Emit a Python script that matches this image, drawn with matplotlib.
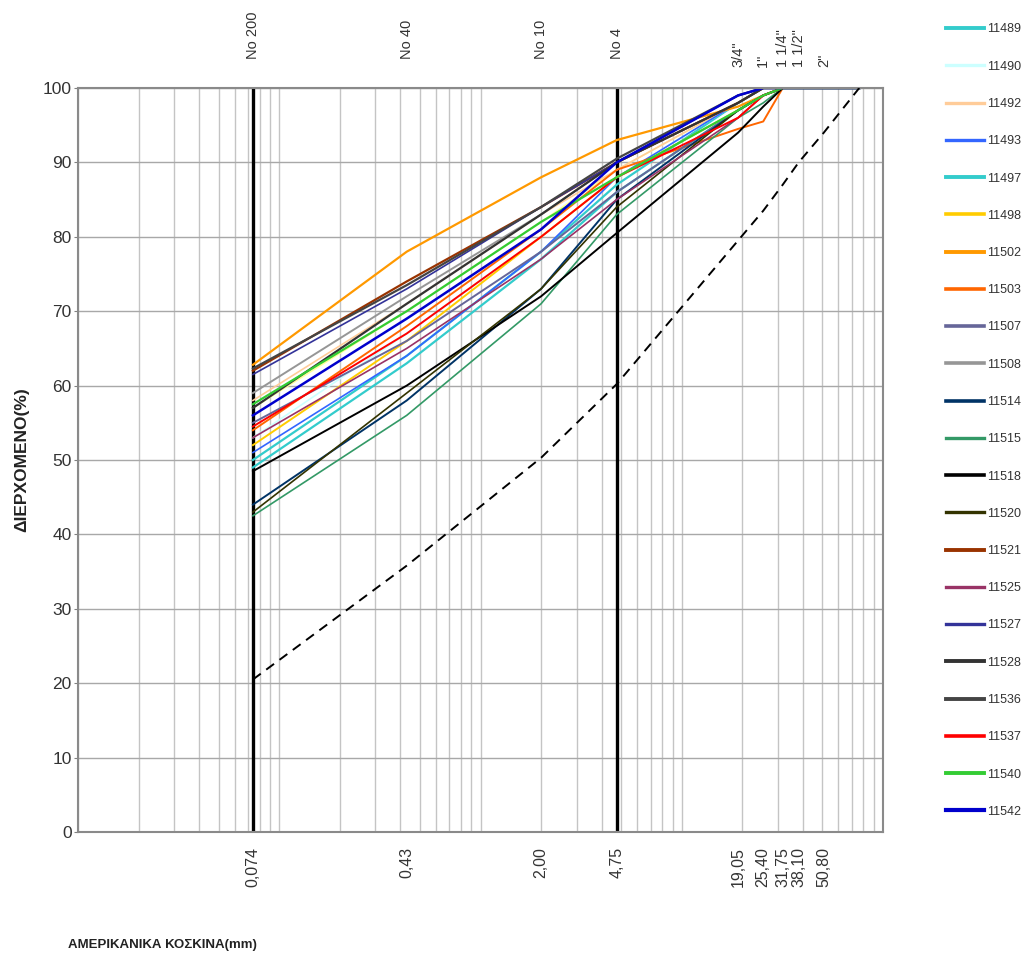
import matplotlib
matplotlib.use("Agg")
import matplotlib.pyplot as plt
from matplotlib.ticker import NullFormatter, FixedLocator
from matplotlib.lines import Line2D

plt.rcParams['font.family'] = ['Liberation Sans', 'DejaVu Sans']

# sieve openings (mm)
sieves = [0.074, 0.43, 2.00, 4.75, 19.05, 25.40, 31.75, 38.10, 50.80, 76.20]
bottom_labels = ["0,074", "0,43", "2,00", "4,75", "19,05", "25,40", "31,75", "38,10", "50,80"]
top_labels = ["No 200", "No 40", "No 10", "No 4", "3/4\"", "1\"", "1 1/4\"", "1 1/2\"", "2\""]
label_sieves = [0.074, 0.43, 2.00, 4.75, 19.05, 25.40, 31.75, 38.10, 50.80]

names = ["11488", "11489", "11490", "11492", "11493", "11497", "11498", "11502",
         "11503", "11507", "11508", "11514", "11515", "11518", "11520", "11521",
         "11525", "11527", "11528", "11536", "11537", "11540", "11542"]
colors = ["#FFFF99", "#33CCCC", "#CCFFFF", "#FFCC99", "#3366FF", "#33CCCC", "#FFCC00", "#FF9900",
          "#FF6600", "#666699", "#969696", "#003366", "#339966", "#000000", "#333300", "#993300",
          "#993366", "#333399", "#333333", "#444444", "#FF0000", "#33CC33", "#0000CC"]
widths = [1.2, 1.6, 1.2, 1.2, 1.2, 1.6, 1.4, 1.6,
          1.4, 1.4, 1.4, 1.4, 1.2, 1.4, 1.2, 1.6,
          1.2, 1.2, 1.6, 1.6, 1.4, 1.6, 1.8]

passing = [
    [57.0, 70.0, 82.0, 89.0, 98.0, 100, 100, 100, 100, 100],   # 11488
    [50.0, 64.0, 78.0, 87.0, 98.0, 100, 100, 100, 100, 100],   # 11489
    [53.0, 67.0, 80.0, 88.0, 98.0, 100, 100, 100, 100, 100],   # 11490
    [58.0, 71.0, 83.0, 89.0, 98.0, 100, 100, 100, 100, 100],   # 11492
    [51.0, 64.0, 78.0, 88.0, 98.0, 100, 100, 100, 100, 100],   # 11493
    [49.0, 63.0, 77.0, 86.0, 97.0, 99.0, 100, 100, 100, 100],  # 11497
    [52.0, 66.0, 80.0, 88.0, 97.0, 99.0, 100, 100, 100, 100],  # 11498
    [62.8, 78.0, 88.0, 93.0, 97.5, 99.0, 100, 100, 100, 100],  # 11502
    [54.0, 68.0, 81.0, 89.0, 94.5, 95.5, 100, 100, 100, 100],  # 11503
    [55.0, 66.0, 78.0, 86.0, 97.0, 99.0, 100, 100, 100, 100],  # 11507
    [59.0, 72.0, 83.0, 90.0, 98.0, 100, 100, 100, 100, 100],   # 11508
    [44.0, 58.0, 73.0, 85.0, 97.0, 99.0, 100, 100, 100, 100],  # 11514
    [42.5, 56.0, 71.0, 83.0, 96.0, 98.0, 100, 100, 100, 100],  # 11515
    [48.5, 60.0, 72.0, 80.5, 94.0, 97.5, 100, 100, 100, 100],  # 11518
    [43.0, 59.0, 73.0, 84.0, 97.0, 99.0, 100, 100, 100, 100],  # 11520
    [62.0, 74.0, 84.0, 90.0, 98.0, 100, 100, 100, 100, 100],   # 11521
    [53.0, 65.0, 77.0, 85.0, 96.0, 99.0, 100, 100, 100, 100],  # 11525
    [61.5, 73.0, 84.0, 90.0, 99.0, 100, 100, 100, 100, 100],   # 11527
    [57.0, 71.0, 83.0, 90.0, 98.0, 100, 100, 100, 100, 100],   # 11528
    [62.3, 73.5, 84.0, 90.5, 99.0, 100, 100, 100, 100, 100],   # 11536
    [54.5, 67.0, 80.0, 88.0, 96.0, 99.0, 100, 100, 100, 100],  # 11537
    [57.5, 70.0, 82.0, 88.0, 97.0, 99.0, 100, 100, 100, 100],  # 11540
    [56.0, 69.0, 81.0, 90.0, 99.0, 100, 100, 100, 100, 100],   # 11542
]

# reference (dashed) curve
ref_passing = [20.5, 35.8, 50.3, 60.2, 79.5, 83.5, 87.0, 90.0, 94.0, 100]

fig = plt.figure(figsize=(10.34, 9.67), dpi=100)
ax = fig.add_axes([78/1034, 1-832/967, (883-78)/1034, (832-88)/967])
ax.set_xscale('log')
ax.set_xlim(0.01, 100)
ax.set_ylim(0, 100)

ax.set_yticks(range(0, 101, 10))
ax.grid(True, which='major', axis='y', color='#a8a8a8', lw=1.0)
ax.set_axisbelow(True)

# vertical log grid
for d in [0.01, 0.1, 1, 10]:
    for k in range(1, 10):
        ax.axvline(d * k, color='#c4c4c4', lw=1.0, zorder=0.5)
ax.axvline(100, color='#c4c4c4', lw=1.0, zorder=0.5)

for s in [0.074, 4.75]:
    ax.axvline(s, color='black', lw=2.4, zorder=1.5)

handles = []
for name, col, lw, vals in zip(names, colors, widths, passing):
    ax.plot(sieves, vals, color=col, lw=lw, label=name, zorder=2)
    handles.append(Line2D([], [], color=col, lw=lw + 1.2))

ax.plot(sieves, ref_passing, color='black', lw=1.4, ls=(0, (5, 3.5)), zorder=3)

# bottom ticks
ax.xaxis.set_major_locator(FixedLocator(label_sieves))
ax.xaxis.set_major_formatter(plt.FixedFormatter(bottom_labels))
ax.xaxis.set_minor_locator(FixedLocator([]))
ax.xaxis.set_minor_formatter(NullFormatter())
ax.tick_params(axis='x', which='major', length=0, pad=11, labelsize=11.5, labelrotation=90, colors='#333333')
ax.tick_params(axis='y', labelsize=12.5, length=3, color='#808080', colors='#333333', pad=1.5)

for sp in ax.spines.values():
    sp.set_color('#8a8a8a')
    sp.set_linewidth(1.5)

ax2 = ax.twiny()
ax2.set_xscale('log')
ax2.set_xlim(0.01, 100)
ax2.xaxis.set_major_locator(FixedLocator(label_sieves))
ax2.xaxis.set_major_formatter(plt.FixedFormatter(top_labels))
ax2.xaxis.set_minor_locator(FixedLocator([]))
ax2.xaxis.set_minor_formatter(NullFormatter())
ax2.tick_params(axis='x', which='major', length=0, pad=15, labelsize=10.5, labelrotation=90, colors='#333333')
for lbl in ax2.get_xticklabels():
    if lbl.get_text().startswith("No"):
        lbl.set_y(lbl.get_position()[1])
for sp in ax2.spines.values():
    sp.set_visible(False)
# "No" labels sit slightly higher than the inch labels in the original
fig.canvas.draw()
import matplotlib.transforms as mtransforms
for lbl in ax2.get_xticklabels():
    if lbl.get_text().startswith("No"):
        lbl.set_transform(lbl.get_transform() + mtransforms.ScaledTranslation(0, 8/100, fig.dpi_scale_trans))

fig.text(22/1034, 1-460/967, "ΔΙΕΡΧΟΜΕΝΟ(%)", rotation=90, ha='center', va='center',
         fontsize=12.5, fontweight='bold', color='#222222')
fig.text(68/1034, 1-945/967, "ΑΜΕΡΙΚΑΝΙΚΑ ΚΟΣΚΙΝΑ(mm)", ha='left', va='center',
         fontsize=9.5, fontweight='bold', color='#222222')

leg = fig.legend(handles, names, loc='upper left',
                 bbox_to_anchor=(940/1034, 1 + 20/967), frameon=False,
                 fontsize=9, handlelength=3.0, handletextpad=0.3,
                 labelspacing=2.02, borderpad=0)
for t in leg.get_texts():
    t.set_color('#333333')

fig.savefig("out.png", dpi=100)
